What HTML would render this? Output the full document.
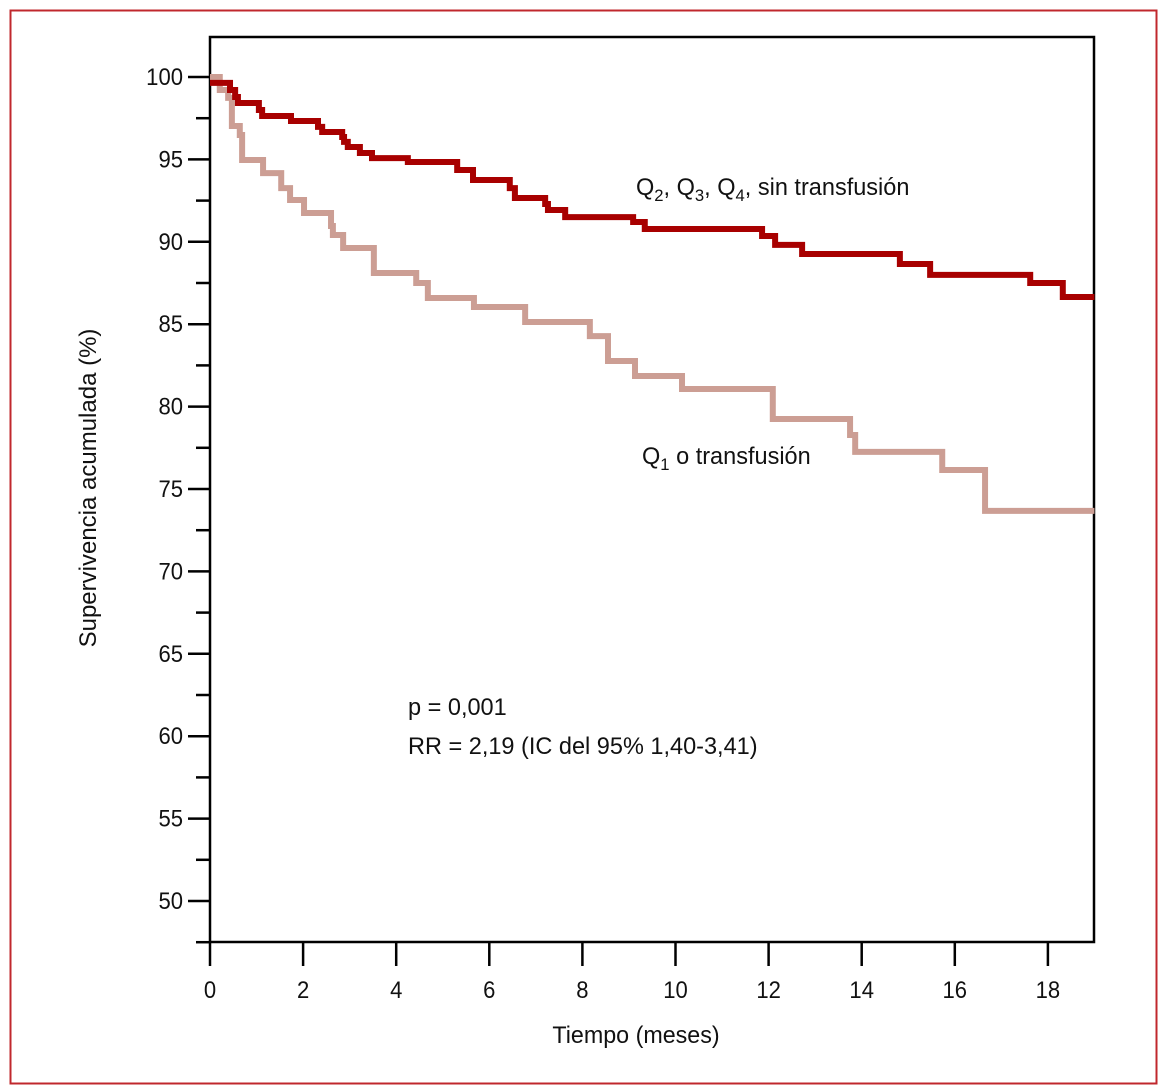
<!DOCTYPE html>
<html><head><meta charset="utf-8"><style>
html,body{margin:0;padding:0;background:#fff;}
svg{display:block;font-family:"Liberation Sans",sans-serif;}
</style></head><body>
<svg id="chart" width="1167" height="1090" viewBox="0 0 1167 1090" xmlns="http://www.w3.org/2000/svg">
<rect x="10.5" y="10.5" width="1146" height="1073" fill="#fff" stroke="#c0282d" stroke-width="2"/>
<g id="axes"></g>
<g id="series"></g>
<g id="labels"></g>
</svg>
<script>
const yTicks=[50,55,60,65,70,75,80,85,90,95,100];
const xTicks=[0,2,4,6,8,10,12,14,16,18];
const darkT=[0,0.43,0.54,0.60,1.05,1.12,1.74,2.32,2.41,2.84,2.88,2.96,3.22,3.48,4.25,5.31,5.65,6.44,6.55,7.20,7.26,7.63,9.09,9.34,11.86,12.14,12.72,14.82,15.47,17.62,18.32];
const darkV=[99.64,99.21,98.79,98.42,98.0,97.63,97.33,96.97,96.66,96.36,96.06,95.75,95.39,95.08,94.84,94.36,93.75,93.26,92.66,92.29,91.93,91.5,91.2,90.78,90.35,89.81,89.26,88.65,87.99,87.5,86.65];
const lightT=[0,0.21,0.39,0.47,0.64,0.69,1.14,1.53,1.72,2.02,2.60,2.64,2.86,3.52,4.43,4.68,5.67,6.77,8.16,8.55,9.13,10.14,12.09,13.75,13.86,15.73,16.65];
const lightV=[100,99.21,98.73,97.03,96.48,94.96,94.17,93.26,92.54,91.75,90.96,90.41,89.62,88.11,87.5,86.59,86.04,85.13,84.28,82.77,81.86,81.07,79.25,78.28,77.25,76.15,73.67];
const tMax=19;
const NS="http://www.w3.org/2000/svg";
const X0=210,X1=1094,YT=37,YB=942;
function xs(t){return X0+t*46.55;}
function ys(v){return 77+(100-v)*16.48;}
function mk(tag,attrs,parent){const e=document.createElementNS(NS,tag);for(const k in attrs)e.setAttribute(k,attrs[k]);parent.appendChild(e);return e;}
function txt(s,x,y,anchor,parent,size,rot,sx){
  const t=mk('text',{transform:`translate(${x},${y}) ${rot?'rotate(-90) ':''}scale(${sx||0.97},1)`,'text-anchor':anchor,'font-size':size||24,fill:'#111'},parent);
  t.textContent=s;return t;}
const axes=document.getElementById('axes');
const frame=mk('rect',{x:X0,y:YT,width:X1-X0,height:YB-YT,fill:'none',stroke:'#000','stroke-width':2.5},axes);


yTicks.forEach(v=>{
  const l=mk('line',{x1:188,x2:X0,y1:ys(v),y2:ys(v),stroke:'#000','stroke-width':2.5},axes);
  
  
  const m=mk('line',{x1:196,x2:X0,y1:ys(v-2.5),y2:ys(v-2.5),stroke:'#000','stroke-width':2.5},axes);
  
  
  const t=txt(String(v),183,ys(v)+8,'end',axes,24,false,0.92);
  
  
});
xTicks.forEach(v=>{
  const l=mk('line',{x1:xs(v),x2:xs(v),y1:YB,y2:966,stroke:'#000','stroke-width':2.5},axes);
  
  
  const t=txt(String(v),xs(v),998,'middle',axes,24,false,0.92);
  
  
});
function stepPath(T,V){let d=`M${xs(T[0])},${ys(V[0])}`;for(let i=1;i<T.length;i++){d+=` H${xs(T[i])} V${ys(V[i])}`;}d+=` H${xs(tMax)}`;return d;}
const ser=document.getElementById('series');
const p1=mk('path',{d:stepPath(lightT,lightV),fill:'none',stroke:'#cc9e94','stroke-width':6},ser);


const p2=mk('path',{d:stepPath(darkT,darkV),fill:'none',stroke:'#a80000','stroke-width':6},ser);


const lab=document.getElementById('labels');
const yt=txt('Supervivencia acumulada (%)',96,488,'middle',lab,24,true,1.0);


const xt=txt('Tiempo (meses)',636,1043,'middle',lab,24,false,0.97);


const l1=mk('text',{transform:'translate(636,195) scale(0.98,1)','font-size':24,fill:'#111'},lab);
l1.innerHTML='Q<tspan font-size="17" dy="6">2</tspan><tspan dy="-6">, Q</tspan><tspan font-size="17" dy="6">3</tspan><tspan dy="-6">, Q</tspan><tspan font-size="17" dy="6">4</tspan><tspan dy="-6">, sin transfusión</tspan>';


const l2=mk('text',{transform:'translate(642,464) scale(0.98,1)','font-size':24,fill:'#111'},lab);
l2.innerHTML='Q<tspan font-size="17" dy="6">1</tspan><tspan dy="-6"> o transfusión</tspan>';


const s1=txt('p = 0,001',408,715,'start',lab,24,false,0.98);


const s2=txt('RR = 2,19 (IC del 95% 1,40-3,41)',408,754,'start',lab,24,false,0.98);


</script>
</body></html>
